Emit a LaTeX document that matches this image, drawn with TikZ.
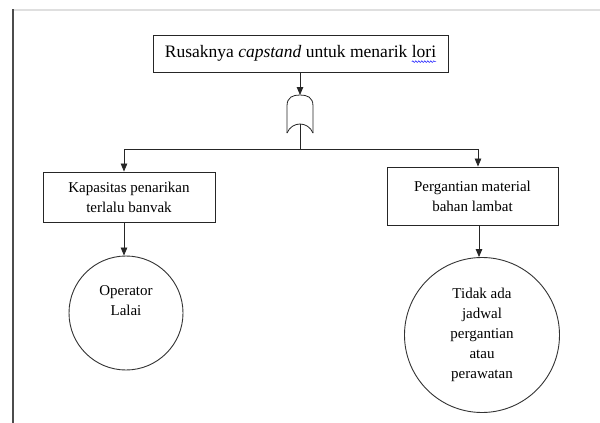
\documentclass[tikz,border=0pt]{standalone}
\usepackage{fontspec}
\setmainfont{Liberation Serif}
\usetikzlibrary{arrows.meta,calc,decorations.pathmorphing}
\newlength\loriA
\newlength\loriB
\newcommand\topfont{\fontsize{17.5}{21}\selectfont}
\tikzset{
  boxnode/.style={draw=black!85,line width=0.9pt,align=center,inner sep=2pt},
  circnode/.style={draw=black!80,line width=0.9pt,circle,align=center,inner sep=0pt},
  conn/.style={draw=black!85,line width=0.8pt},
  arr/.style={conn,-{Triangle[length=8pt,width=6.5pt]}},
  txt/.style={font=\fontsize{15}{20}\selectfont},
  wavy/.style={draw=blue!80,line width=0.6pt,decorate,decoration={snake,amplitude=0.8pt,segment length=3pt}}
}
\begin{document}
\settowidth{\loriA}{\topfont Rusaknya \textit{capstand} untuk menarik }%
\settowidth{\loriB}{\topfont lori}%
\begin{tikzpicture}[x=1pt,y=-1pt]
\useasboundingbox (0,0) rectangle (600,423);
\fill[white] (0,0) rectangle (600,423);
% page edges
\draw[gray!25,line width=2pt] (13,10) -- (600,10);
\draw[black!70,line width=1.8pt] (13,9) -- (13,423);
% top event
\node[boxnode,minimum width=295pt,minimum height=37pt,font=\topfont] (top) at (300.5,53.5) {Rusaknya \textit{capstand} untuk menarik lori};
\coordinate (w1) at ([xshift=\loriA,yshift=-4pt]top.text);
\coordinate (w2) at ([xshift=\loriA+\loriB,yshift=-4pt]top.text);
\draw[wavy] (w1) -- (w2);
% gate
\coordinate (gtop) at (300,95);
\coordinate (gbot) at (300,124);
\draw[conn] (287,133) -- (287,106) .. controls (287,97) and (293,95) .. (gtop) .. controls (307,95) and (313,97) .. (313,106) -- (313,133);
\draw[conn] (287,133) .. controls (292,121) and (308,121) .. (313,133);
\draw[arr] (top.south -| gtop) -- (gtop);
% branches
\coordinate (hc) at (300,149);
\coordinate (lj) at (124,149);
\coordinate (rj) at (478,149);
\draw[conn] (gbot) -- (hc);
\draw[conn] (lj) -- (rj);
\node[boxnode,txt,minimum width=172pt,minimum height=50pt] (L) at (129,197) {Kapasitas penarikan\\terlalu banvak};
\node[boxnode,txt,minimum width=171pt,minimum height=58pt] (R) at (472.5,196) {Pergantian material\\bahan lambat};
\draw[arr] (lj) -- (lj |- L.north);
\draw[arr] (rj) -- (rj |- R.north);
% basic events
\node[circnode,txt,minimum size=114pt] (C1) at (126,313) {Operator\\Lalai\\[4pt]};
\node[circnode,txt,minimum size=155pt] (C2) at (482,335) {Tidak ada\\jadwal\\pergantian\\atau\\perawatan};
\coordinate (la) at (124,222);
\coordinate (ra) at (479,225);
\draw[arr] (la) -- (la |- C1.north);
\draw[arr] (ra) -- (ra |- C2.north);
\end{tikzpicture}
\end{document}
